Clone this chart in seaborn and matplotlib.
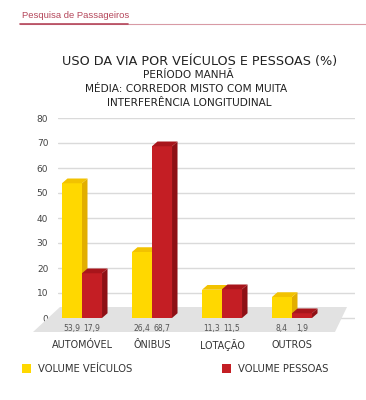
import numpy as np
import pandas as pd
import matplotlib
matplotlib.use("Agg")
import matplotlib.pyplot as plt
from matplotlib.patches import Polygon, Rectangle
import seaborn as sns

categories = ["Automóvel", "Ônibus", "Lotação", "Outros"]
cat_labels = ["AUTOMÓVEL", "ÔNIBUS", "LOTAÇÃO", "OUTROS"]
series = ["Volume Veículos", "Volume Pessoas"]
veiculos = [53.9, 26.4, 11.3, 8.4]
pessoas = [17.9, 68.7, 11.5, 1.9]
yticks = [0, 10, 20, 30, 40, 50, 60, 70, 80]

front = ["#FFD800", "#C41E24"]
top = ["#F2C200", "#A8151B"]
side = ["#E2AE00", "#8E1015"]

df = pd.DataFrame({
    "cat": categories * 2,
    "val": veiculos + pessoas,
    "serie": [series[0]] * 4 + [series[1]] * 4,
})

sns.set_style("white")
plt.rcParams["font.family"] = ["DejaVu Sans"]

fig = plt.figure(figsize=(3.66, 4.0), dpi=100)
W, H = 366, 400
# axes: x 58..355 px, y 118 (80) .. 333 (-6) px
ax = fig.add_axes([58 / W, (H - 333) / H, (355 - 58) / W, 215 / H])

sns.barplot(data=df, x="cat", y="val", hue="serie", palette=front,
            width=0.572, legend=False, ax=ax, saturation=1,
            linewidth=0, zorder=3)

px = 70.0
ax.set_ylim(-6, 80)
ax.set_xlim((58 - 82) / px, (355 - 82) / px)
ax.set_yticks(yticks)
ax.set_yticklabels([str(t) for t in yticks], fontsize=6.5, color="#444444")
ax.tick_params(axis="y", length=0, pad=7)
ax.set_xticks([])
ax.set_xlabel("")
ax.set_ylabel("")
ax.yaxis.grid(True, color="#dadada", lw=1)
ax.set_axisbelow(True)
for s in ax.spines.values():
    s.set_visible(False)

# floor (gray parallelogram)
def xd(p):
    return (p - 82) / px
floor = Polygon([(xd(60), 4.4), (xd(347), 4.4), (xd(335), -5.6), (xd(33), -5.6)],
                closed=True, facecolor="#e2e2e2", edgecolor="none", zorder=2,
                clip_on=False)
ax.add_patch(floor)

dx, dy = 5.5 / px, 1.9
for i, cont in enumerate(ax.containers):
    z = 3 + i * 2
    for bar in cont:
        x, w, h = bar.get_x(), bar.get_width(), bar.get_height()
        bar.set_zorder(z + 1)
        ax.add_patch(Polygon([(x, h), (x + w, h), (x + w + dx, h + dy), (x + dx, h + dy)],
                             closed=True, facecolor=top[i], edgecolor="none", zorder=z + 1))
        ax.add_patch(Polygon([(x + w, 0), (x + w + dx, dy), (x + w + dx, h + dy), (x + w, h)],
                             closed=True, facecolor=side[i], edgecolor="none", zorder=z))
        ax.text(x + w / 2, -4, f"{h:.1f}".replace(".", ","), ha="center", va="center",
                fontsize=5.5, color="#555555", zorder=10)

for k, lab in enumerate(cat_labels):
    ax.text(k, -10.8, lab, ha="center", va="center", fontsize=6.9,
            color="#333333", clip_on=False)

# header
fig.text(22 / W, 1 - 15 / H, "Pesquisa de Passageiros", fontsize=6.8,
         family="Liberation Sans", color="#b5475b", va="center")
fig.add_artist(plt.Line2D([20 / W, 1], [1 - 24 / H] * 2, color="#d89aa5", lw=0.8))
fig.add_artist(plt.Line2D([20 / W, 128 / W], [1 - 24 / H] * 2, color="#b5475b", lw=1.2))

# titles
fig.text(200 / W, 1 - 62 / H, "USO DA VIA POR VEÍCULOS E PESSOAS (%)", ha="center",
         va="center", fontsize=9.2, color="#222222")
fig.text(188 / W, 1 - 75.5 / H, "PERÍODO MANHÃ", ha="center", va="center",
         fontsize=7.6, color="#222222")
fig.text(186 / W, 1 - 89.5 / H, "MÉDIA: CORREDOR MISTO COM MUITA", ha="center",
         va="center", fontsize=7.6, color="#222222")
fig.text(189 / W, 1 - 103 / H, "INTERFERÊNCIA LONGITUDINAL", ha="center",
         va="center", fontsize=7.6, color="#222222")

# legend
for lx, col, lab in [(22, front[0], "VOLUME VEÍCULOS"), (222, front[1], "VOLUME PESSOAS")]:
    fig.add_artist(Rectangle((lx / W, 1 - 373 / H), 9 / W, 9 / H,
                             facecolor=col, edgecolor="none", transform=fig.transFigure))
    fig.text((lx + 16) / W, 1 - 369 / H, lab, fontsize=7.2, color="#333333", va="center")

fig.savefig("out.png", dpi=100, facecolor="white")
